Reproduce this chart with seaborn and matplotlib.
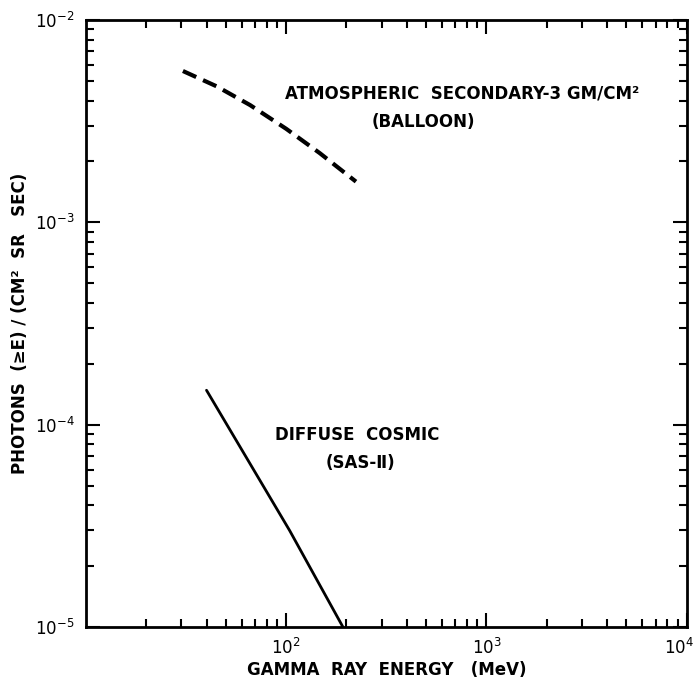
import numpy as np
import pandas as pd
import matplotlib
matplotlib.use('Agg')
import matplotlib.pyplot as plt
import matplotlib.transforms as mtransforms
import seaborn as sns
from matplotlib.ticker import LogLocator, FixedLocator, FixedFormatter, NullFormatter

# atmospheric secondary (balloon), dashed curve
atmo_energy = [30.5, 45, 66, 100, 147, 223]
atmo_flux = [5.6e-3, 4.7e-3, 3.8e-3, 2.9e-3, 2.2e-3, 1.59e-3]

# diffuse cosmic (SAS-II), solid line
cosmic_energy = [40, 104, 192]
cosmic_flux = [1.48e-4, 3.0e-5, 1.0e-5]

x_ticks = [1e2, 1e3, 1e4]
x_labels = ['$10^2$', '$10^3$', '$10^4$']
y_ticks = [1e-5, 1e-4, 1e-3, 1e-2]
y_labels = ['$10^{-5}$', '$10^{-4}$', '$10^{-3}$', '$10^{-2}$']

sns.set_style('ticks')
plt.rcParams['font.family'] = ['DejaVu Sans']
plt.rcParams['mathtext.fontset'] = 'dejavusans'
for key in ['text.color', 'axes.labelcolor', 'xtick.color', 'ytick.color', 'axes.edgecolor']:
    plt.rcParams[key] = 'black'

atmo = pd.DataFrame({'energy': atmo_energy, 'flux': atmo_flux})
cosmic = pd.DataFrame({'energy': cosmic_energy, 'flux': cosmic_flux})

fig = plt.figure(figsize=(6.93, 6.82), dpi=100)
ax = fig.add_axes([0.124, 0.0806, 0.867, 0.890])

sns.lineplot(data=atmo, x='energy', y='flux', ax=ax, color='black',
             linewidth=3, linestyle=(0, (3.5, 1.8)), sort=False)
sns.lineplot(data=cosmic, x='energy', y='flux', ax=ax, color='black',
             linewidth=2, sort=False)

ax.set_xscale('log')
ax.set_yscale('log')
ax.set_xlim(10, 1e4)
ax.set_ylim(1e-5, 1e-2)

ax.xaxis.set_major_locator(FixedLocator(x_ticks))
ax.xaxis.set_major_formatter(FixedFormatter(x_labels))
ax.yaxis.set_major_locator(FixedLocator(y_ticks))
ax.yaxis.set_major_formatter(FixedFormatter(y_labels))
ax.xaxis.set_minor_locator(LogLocator(base=10, subs=np.arange(2, 10)))
ax.yaxis.set_minor_locator(LogLocator(base=10, subs=np.arange(2, 10)))
ax.xaxis.set_minor_formatter(NullFormatter())
ax.yaxis.set_minor_formatter(NullFormatter())

ax.tick_params(which='both', direction='in', top=True, right=True,
               labelsize=12, pad=8, width=1.5)
ax.tick_params(which='major', length=10)
ax.tick_params(which='minor', length=6)
for s in ax.spines.values():
    s.set_linewidth(2)

# keep the 10^4 label inside the picture
shift = mtransforms.ScaledTranslation(-8 / 100, 0, fig.dpi_scale_trans)
last = ax.xaxis.get_majorticklabels()[-1]
last.set_transform(last.get_transform() + shift)

ax.set_xlabel('GAMMA  RAY  ENERGY   (MeV)', fontsize=12, fontweight='bold', labelpad=2)
ax.set_ylabel('PHOTONS  (≥E) / (CM²  SR   SEC)', fontsize=12, fontweight='bold', labelpad=4)

fig.text(285 / 693, 1 - 93 / 682, 'ATMOSPHERIC  SECONDARY-3 GM/CM²',
         fontsize=12, fontweight='bold', ha='left', va='center')
fig.text(423 / 693, 1 - 122 / 682, '(BALLOON)', fontsize=12, fontweight='bold',
         ha='center', va='center')
fig.text(275 / 693, 1 - 435 / 682, 'DIFFUSE  COSMIC', fontsize=12, fontweight='bold',
         ha='left', va='center')
fig.text(360 / 693, 1 - 463 / 682, '(SAS-Ⅱ)', fontsize=12, fontweight='bold',
         ha='center', va='center')

fig.savefig('out.png', dpi=100)
